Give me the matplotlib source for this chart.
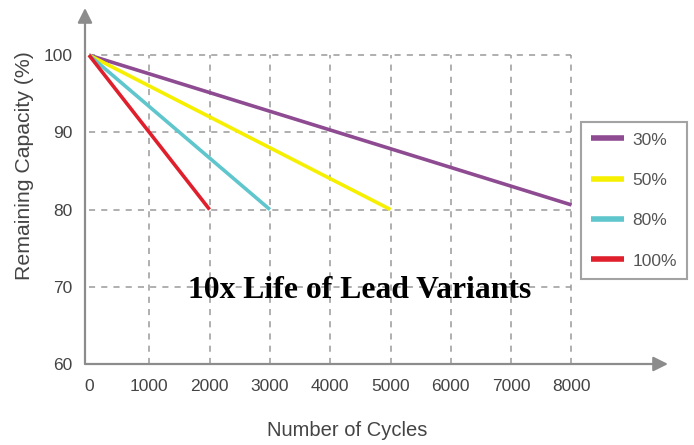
import matplotlib
matplotlib.use("Agg")
import matplotlib.pyplot as plt

# data
cycles_30 = [0, 8000]
capacity_30 = [100, 80.6]
cycles_50 = [0, 5000]
capacity_50 = [100, 80]
cycles_80 = [0, 3000]
capacity_80 = [100, 80]
cycles_100 = [0, 2000]
capacity_100 = [100, 80]

series_labels = ["30%", "50%", "80%", "100%"]
series_colors = ["#8e4b92", "#f6f000", "#5ec6cc", "#e01f2d"]

x_ticks = [0, 1000, 2000, 3000, 4000, 5000, 6000, 7000, 8000]
y_ticks = [60, 70, 80, 90, 100]

plt.rcParams["font.family"] = ["Liberation Sans", "DejaVu Sans"]

W, H = 694, 445
fig = plt.figure(figsize=(W / 100, H / 100), dpi=100)
fig.patch.set_facecolor("white")

# axes box in pixel terms
left_px, right_px, bottom_px, top_px = 85, 668, 364, 8
ax = fig.add_axes([left_px / W, (H - bottom_px) / H,
                   (right_px - left_px) / W, (bottom_px - top_px) / H])
ax.set_xlim(-66, 9600)
ax.set_ylim(60, 106.1)

for s in ax.spines.values():
    s.set_visible(False)

grid_kw = dict(colors="#9a9a9a", linestyles=(0, (4, 4)), linewidth=1.1, zorder=1)
ax.vlines(x_ticks[1:], 60, 100, **grid_kw)
ax.hlines(y_ticks[1:], 0, 8000, **grid_kw)

# axis lines with arrow heads
arrow_kw = dict(arrowstyle="-|>", color="#8c8c8c", lw=1.6, mutation_scale=22,
                shrinkA=0, shrinkB=0)
ax.annotate("", xy=(0, 1), xytext=(0, 0), xycoords="axes fraction", arrowprops=arrow_kw)
ax.annotate("", xy=(1, 0), xytext=(0, 0), xycoords="axes fraction", arrowprops=arrow_kw)

series = [(cycles_30, capacity_30), (cycles_50, capacity_50),
          (cycles_80, capacity_80), (cycles_100, capacity_100)]
for (xs, ys), lab, col in zip(series, series_labels, series_colors):
    ax.plot(xs, ys, color=col, lw=2.6, label=lab, zorder=3, solid_capstyle="butt")

ax.set_xticks(x_ticks)
ax.set_yticks(y_ticks)
ax.tick_params(axis="both", length=0, labelsize=12.5, labelcolor="#444444")
ax.tick_params(axis="x", pad=11)
ax.tick_params(axis="y", pad=9)

fig.text(347 / W, 1 - 430 / H, "Number of Cycles", fontsize=14.5, color="#444444",
         ha="center", va="center")
fig.text(25 / W, 1 - 166 / H, "Remaining Capacity (%)", fontsize=15.3, color="#444444",
         ha="center", va="center", rotation=90)

fig.text(360 / W, 1 - 298 / H, "10x Life of Lead Variants", fontsize=22.8,
         fontweight="bold", family="Liberation Serif", color="black",
         ha="center", va="baseline")

leg = ax.legend(loc="upper left", bbox_to_anchor=(581 / W, 1 - 122 / H),
                bbox_transform=fig.transFigure, fontsize=12.5, labelcolor="#555555",
                frameon=True, fancybox=False, edgecolor="#8c8c8c", borderpad=0.6,
                labelspacing=1.45, handlelength=1.85, handletextpad=0.5,
                borderaxespad=0)
leg.get_frame().set_linewidth(1.5)
for line in leg.get_lines():
    line.set_linewidth(4)

fig.savefig("out.png", dpi=100, facecolor="white")
